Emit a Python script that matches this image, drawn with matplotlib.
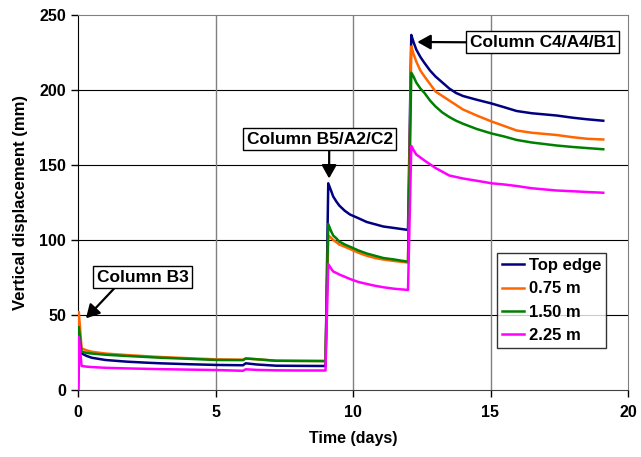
import matplotlib
matplotlib.use('Agg')
import matplotlib.pyplot as plt

plt.rcParams['font.family'] = ['Liberation Sans', 'DejaVu Sans']
plt.rcParams['font.weight'] = 'bold'

# Time (days)
time = [0, 0.03, 0.13, 0.3, 0.5, 1.0, 1.77, 2.5, 3.0, 4.0, 5.04, 6.0, 6.1, 6.5, 7.2, 8.0, 9.0,
        9.1, 9.2, 9.28, 9.4, 9.5, 9.7, 9.89, 10.2, 10.5, 10.8, 11.1, 11.5, 12.0,
        12.12, 12.2, 12.3, 12.45, 12.6, 12.8, 13.0, 13.25, 13.5, 13.75, 14.0, 14.5, 15.04,
        15.5, 15.95, 16.5, 17.4, 18.0, 18.5, 19.1]

# Vertical displacement (mm)
top_edge = [0, 30, 24.4, 22.8, 21.5, 20.0, 18.9, 18.2, 17.8, 17.2, 16.7, 16.5, 17.8, 17.0, 16.2, 16.1, 16.0,
            137.8, 133, 129, 125.5, 123, 119.5, 117, 114.5, 112, 110.5, 109, 108, 106.7,
            236.7, 232, 227, 222, 218, 213, 209, 205, 201, 198, 196, 193.5, 191,
            188.5, 186, 184.5, 183, 181.5, 180.5, 179.5]
d_075 = [0, 52, 27.8, 26.5, 25.5, 24.3, 23.3, 22.5, 22.0, 21.2, 20.4, 20.2, 21.0, 20.5, 19.5, 19.4, 19.3,
         103, 101.5, 100, 98.5, 97, 95.5, 94, 91.5, 89.5, 88, 87, 86, 85,
         229, 224, 219, 213, 209, 204, 199, 196, 193, 190, 187, 183, 179,
         176, 173, 171.5, 170, 168.5, 167.5, 167]
d_150 = [0, 42, 25.5, 24.8, 24.3, 23.5, 22.7, 22.0, 21.5, 20.8, 20.0, 19.9, 21.0, 20.5, 19.5, 19.4, 19.3,
         110.7, 106, 103, 101, 99, 97, 95.5, 93, 91, 89.5, 88, 87, 85.5,
         211.5, 209, 205, 201, 198, 193, 189, 185, 182, 179.5, 177.5, 174, 171,
         169, 166.7, 165, 163, 162, 161.3, 160.5]
d_225 = [0, 35.5, 16.0, 15.6, 15.3, 14.8, 14.4, 14.1, 13.9, 13.6, 13.3, 12.8, 13.8, 13.4, 13.1, 13.0, 13.0,
         84, 81, 79, 78, 77, 75.5, 74, 72, 70.7, 69.5, 68.5, 67.5, 66.7,
         162.7, 160, 157, 155, 153, 150.5, 148, 145.5, 143, 142, 141, 139.5, 137.8,
         137, 136, 134.5, 133, 132.5, 132, 131.5]

series = [('Top edge', top_edge, '#000080'),
          ('0.75 m', d_075, '#FF6600'),
          ('1.50 m', d_150, '#008000'),
          ('2.25 m', d_225, '#FF00FF')]

fig = plt.figure(figsize=(6.41, 4.57), dpi=100)
ax = fig.add_axes([78/641, 67/457, 550/641, 375/457])

# gridlines
for y in [50, 100, 150, 200]:
    ax.axhline(y, color='black', lw=0.8, zorder=1)
for x in [5, 10, 15]:
    ax.axvline(x, color='#808080', lw=1.0, zorder=1)

for label, vals, col in series:
    ax.plot(time, vals, color=col, lw=1.8, label=label, zorder=3)

ax.set_xlim(0, 20)
ax.set_ylim(0, 250)
ax.set_xticks([0, 5, 10, 15, 20])
ax.set_yticks([0, 50, 100, 150, 200, 250])
ax.tick_params(direction='out', length=5, width=1, labelsize=11.5)
ax.tick_params(axis='x', pad=6)
for lab in ax.get_xticklabels() + ax.get_yticklabels():
    lab.set_fontweight('bold')
ax.set_xlabel('Time (days)', fontsize=11.5, fontweight='bold', labelpad=8)
ax.set_ylabel('Vertical displacement (mm)', fontsize=12, fontweight='bold', labelpad=8)

ax.spines['left'].set_color('black')
ax.spines['bottom'].set_color('#404040')
ax.spines['top'].set_color('#808080')
ax.spines['right'].set_color('#808080')

leg = ax.legend(loc='upper left', bbox_to_anchor=(0.762, 0.365), fontsize=12,
                frameon=True, fancybox=False, edgecolor='black', handlelength=1.3,
                handletextpad=0.3, borderpad=0.3, labelspacing=0.5, borderaxespad=0)
leg.get_frame().set_linewidth(1.0)
for t in leg.get_texts():
    t.set_fontweight('bold')

box = dict(boxstyle='square,pad=0.2', fc='white', ec='black', lw=1.0)
arrow = dict(arrowstyle='-|>,head_length=0.5,head_width=0.28', color='black', lw=1.6,
             mutation_scale=16, shrinkA=0, shrinkB=0)

ax.annotate('Column B3', xy=(0.29, 47.8), xytext=(2.35, 75.3), ha='center', va='center',
            fontsize=12.5, fontweight='bold', bbox=box,
            arrowprops=dict(arrow, relpos=(0.23, 0)), zorder=5)
ax.annotate('Column B5/A2/C2', xy=(9.13, 141), xytext=(8.79, 167.3), ha='center', va='center',
            fontsize=12.5, fontweight='bold', bbox=box,
            arrowprops=dict(arrow, relpos=(0.565, 0)), zorder=5)
ax.annotate('Column C4/A4/B1', xy=(12.34, 232), xytext=(16.9, 231.8), ha='center', va='center',
            fontsize=12.5, fontweight='bold', bbox=box,
            arrowprops=dict(arrow, relpos=(0, 0.5)), zorder=5)

fig.savefig('out.png', dpi=100)
